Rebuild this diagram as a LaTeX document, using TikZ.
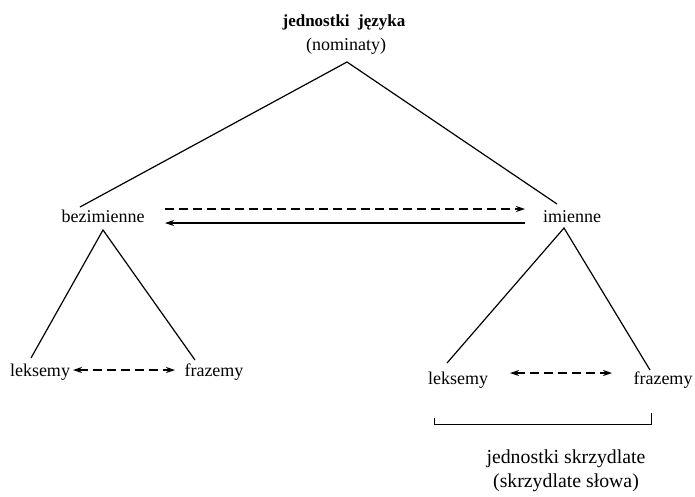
\documentclass[tikz,border=0pt]{standalone}
\usepackage{fontspec}
\setmainfont{Liberation Serif}
\usetikzlibrary{arrows.meta}
\begin{document}
\begin{tikzpicture}[x=1pt,y=-1pt,
  lbl/.style={inner sep=0pt, anchor=base, font=\fontsize{18}{20}\selectfont},
  ln/.style={line width=1.2pt},
  tipr/.style={-{Stealth[length=9pt,width=6pt]}},
  tipb/.style={{Stealth[length=9pt,width=6pt]}-{Stealth[length=9pt,width=6pt]}},
  dsh/.style={dash pattern=on 9pt off 5pt}]
\useasboundingbox (0,0) rectangle (695,496);
% texts
\node[lbl,font=\bfseries\fontsize{17}{20}\selectfont] (top) at (344,26) {jednostki\ \ języka};
\node[lbl] (nom) at (346,50) {(nominaty)};
\node[lbl] (bez) at (103,222) {bezimienne};
\node[lbl] (im) at (572,222) {imienne};
\node[lbl] (lk1) at (40,376) {leksemy};
\node[lbl] (fr1) at (214,376) {frazemy};
\node[lbl] (lk2) at (458,384) {leksemy};
\node[lbl] (fr2) at (663,384) {frazemy};
\node[lbl,font=\fontsize{19.8}{22}\selectfont] (js) at (566,463) {jednostki skrzydlate};
\node[lbl,font=\fontsize{19.8}{22}\selectfont] (ss) at (566,487) {(skrzydlate słowa)};
% connector end points
\coordinate (apex) at (347,62);
\coordinate (bezT) at (80,207);
\coordinate (imT) at (557,204);
\coordinate (bezB) at (103,230);
\coordinate (l1) at (31,358);
\coordinate (f1) at (195,360);
\coordinate (imB) at (564,228);
\coordinate (l2) at (447,363);
\coordinate (f2) at (650,370);
\coordinate (aL1) at (165,209);
\coordinate (aR1) at (525,209);
\coordinate (aL2) at (165,223);
\coordinate (aR2) at (525,223);
\coordinate (d1a) at (73,370);
\coordinate (d1b) at (175,370);
\coordinate (d2a) at (510,373);
\coordinate (d2b) at (612,373);
\coordinate (bk1) at (434,418);
\coordinate (bk2) at (434,424);
\coordinate (bk3) at (651,424);
\coordinate (bk4) at (651,413);
% lines
\draw[ln] (bezT) -- (apex) -- (imT);
\draw[ln] (l1) -- (bezB) -- (f1);
\draw[ln] (l2) -- (imB) -- (f2);
\draw[ln,dsh,tipr] (aL1) -- (aR1);
\draw[ln,tipr] (aR2) -- (aL2);
\draw[ln,dsh,tipb] (d1a) -- (d1b);
\draw[ln,dsh,tipb] (d2a) -- (d2b);
\draw[line width=1pt] (bk1) -- (bk2) -- (bk3) -- (bk4);
\end{tikzpicture}
\end{document}
